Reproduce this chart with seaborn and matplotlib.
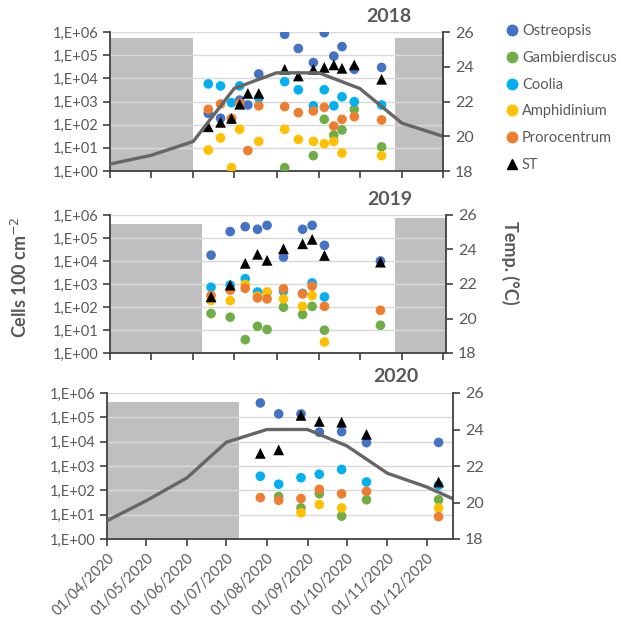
import pandas as pd
import matplotlib
matplotlib.use("Agg")
import matplotlib.pyplot as plt
import matplotlib.dates as mdates
from matplotlib.lines import Line2D
import seaborn as sns

# species and Excel-like colours
species = ["Ostreopsis", "Gambierdiscus", "Coolia", "Amphidinium", "Prorocentrum"]
palette = ["#4472C4", "#70AD47", "#00B0F0", "#FFC000", "#ED7D31"]

# 2018 samples (cells 100 cm-2)
dates_2018 = ["2018-06-12", "2018-06-21", "2018-06-29", "2018-07-05", "2018-07-11",
              "2018-07-19", "2018-08-07", "2018-08-17", "2018-08-28", "2018-09-05",
              "2018-09-12", "2018-09-18", "2018-09-27", "2018-10-17"]
ostreopsis_2018 = [310, 190, 170, 1150, 710, 15500, 790000, 195000, 48000, 930000,
                   91000, 234000, 24500, 29500]
gambierdiscus_2018 = [None, None, None, None, None, None, 1.4, None, 4.6, 170,
                      35, 59, 460, 11]
coolia_2018 = [5750, 4700, 890, 4700, None, 1400, 7200, 3200, 650, 3200,
               650, 1600, 980, 710]
amphidinium_2018 = [8, 27, 1.4, 63, None, 19, 63, 23, 19, 15,
                    19, 6, None, 4.6]
prorocentrum_2018 = [460, 780, 190, 830, 7.6, 650, 600, 330, 390, 560,
                     87, 170, 220, 160]
st_2018 = [81, 126, 186, 760, 2240, 2240, 24500, 12600, 24500, 29500,
           38000, 27000, 38000, 9100]

# 2019 samples
dates_2019 = ["2019-06-14", "2019-06-28", "2019-07-09", "2019-07-18", "2019-07-25",
              "2019-08-06", "2019-08-20", "2019-08-27", "2019-09-05", "2019-10-16"]
ostreopsis_2019 = [18000, 190000, 310000, 240000, 355000, 14800, 240000, 355000, 48000, 10000]
gambierdiscus_2019 = [52, 36, 3.8, 14.5, 10.5, 98, 47, 107, 9.8, 16]
coolia_2019 = [720, 890, 1700, 450, 420, 490, 390, 1120, 275, None]
amphidinium_2019 = [190, 190, 950, 295, 450, 225, 107, 316, 3, None]
prorocentrum_2019 = [316, 540, 650, 250, 225, 620, 370, 810, 107, 72]
st_2019 = [275, 890, 7900, 19500, 10700, 34000, 56000, 87000, 17400, 8900]

# 2020 samples
dates_2020 = ["2020-07-27", "2020-08-10", "2020-08-27", "2020-09-10", "2020-09-27",
              "2020-10-16", "2020-12-10"]
ostreopsis_2020 = [390000, 138000, 138000, 24500, 25700, 9100, 9300]
gambierdiscus_2020 = [None, 56, 19, 72, 8.7, 41, 41]
coolia_2020 = [380, 178, 330, 460, 720, 220, 162]
amphidinium_2020 = [None, None, 12, 26, 19, None, 19]
prorocentrum_2020 = [50, 39, 46, 110, 72, 91, 8.3]
st_2020 = [3300, 4600, 120000, 68000, 63000, 20000, 220]

# monthly sea temperature (°C)
temp_dates_2018 = ["2018-04-01", "2018-05-01", "2018-06-01", "2018-07-01", "2018-08-01",
                   "2018-09-01", "2018-10-01", "2018-11-01", "2018-12-01"]
temp_2018 = [18.4, 18.9, 19.7, 22.75, 23.65, 23.65, 22.75, 20.75, 20.0]
temp_dates_2020 = ["2020-04-01", "2020-05-01", "2020-06-01", "2020-07-01", "2020-08-01",
                   "2020-09-01", "2020-10-01", "2020-11-01", "2020-12-01", "2020-12-21"]
temp_2020 = [19.0, 20.1, 21.35, 23.3, 24.0, 24.0, 23.1, 21.6, 20.85, 20.2]

# no-sampling periods (start, end, top in °C)
shade_2018 = [("2018-04-01", "2018-06-01", 25.67), ("2018-10-27", "2018-12-01", 25.67)]
shade_2019 = [("2019-04-01", "2019-06-07", 25.46), ("2019-10-27", "2019-12-03", 25.84)]
shade_2020 = [("2020-04-01", "2020-07-11", 25.49)]

text_col = "#595959"
sns.set_style("white")
plt.rcParams["font.family"] = ["Lato", "DejaVu Sans"]
plt.rcParams["text.color"] = text_col
plt.rcParams["axes.labelcolor"] = text_col
plt.rcParams["xtick.color"] = "#404040"
plt.rcParams["ytick.color"] = "#404040"
plt.rcParams["xtick.labelcolor"] = text_col
plt.rcParams["ytick.labelcolor"] = text_col


def long_table(dates, series):
    rows = []
    for sp, vals in zip(species, series):
        for d, v in zip(dates, vals):
            if v is not None:
                rows.append({"date": pd.Timestamp(d), "cells": v, "species": sp})
    return pd.DataFrame(rows)


def panel(rect, xlim, dates, series, st, shades, temp_dates=None, temps=None, labels=False):
    ax = fig.add_axes(rect)
    ax2 = ax.twinx()
    ax.set_zorder(1)
    ax.patch.set_visible(False)
    ax2.set_zorder(2)

    ax.set_yscale("log")
    ax.set_ylim(1, 1e6)
    ax.set_yticks([10 ** k for k in range(7)])
    ax.set_yticklabels([f"1,E+0{k}" for k in range(7)])
    ax.minorticks_off()
    ax.yaxis.grid(True, color="#D9D9D9", lw=1)
    ax.set_axisbelow(True)

    for start, end, top in shades:
        ax.axvspan(pd.Timestamp(start), pd.Timestamp(end), ymin=0, ymax=(top - 18) / 8,
                   color="#BFBFBF", lw=0, zorder=0.2)

    df = long_table(dates, series)
    sns.scatterplot(data=df, x="date", y="cells", hue="species", hue_order=species,
                    palette=palette, s=48, edgecolor="none", legend=False, ax=ax, zorder=3)
    st_df = pd.DataFrame({"date": pd.to_datetime(dates), "cells": st})
    sns.scatterplot(data=st_df, x="date", y="cells", marker="^", color="black", s=60,
                    edgecolor="none", legend=False, ax=ax, zorder=4)

    if temps is not None:
        tdf = pd.DataFrame({"date": pd.to_datetime(temp_dates), "temp": temps})
        sns.lineplot(data=tdf, x="date", y="temp", color="#666666", lw=2.4, ax=ax2)
    ax2.set_ylim(18, 26)
    ax2.set_yticks([18, 20, 22, 24, 26])
    ax2.set_ylabel("")

    ax.set_xlim(pd.Timestamp(xlim[0]), pd.Timestamp(xlim[1]))
    ax.xaxis.set_major_locator(mdates.MonthLocator())
    ax.xaxis.set_major_formatter(mdates.DateFormatter("%d/%m/%Y"))
    ax.set_xlabel("")
    ax.set_ylabel("")
    if labels:
        plt.setp(ax.get_xticklabels(), rotation=45, ha="right", rotation_mode="anchor",
                 fontsize=10.5)
    else:
        ax.set_xticklabels([])

    for s in ["top", "right"]:
        ax.spines[s].set_visible(False)
    for s in ["top", "left", "bottom"]:
        ax2.spines[s].set_visible(False)
    for sp in [ax.spines["left"], ax.spines["bottom"], ax2.spines["right"]]:
        sp.set_color("#404040")
        sp.set_linewidth(1.3)
    ax.tick_params(axis="both", direction="out", length=5, width=1.2, labelsize=10.5,
                   left=True, bottom=True)
    ax2.tick_params(axis="y", direction="out", length=5, width=1.2, labelsize=11.5, right=True)
    return ax


fig = plt.figure(figsize=(6.21, 6.20), dpi=100)

panel([110 / 621, 1 - 171 / 620, 333 / 621, 139 / 620], ("2018-04-01", "2018-12-01"),
      dates_2018, [ostreopsis_2018, gambierdiscus_2018, coolia_2018, amphidinium_2018,
                   prorocentrum_2018], st_2018, shade_2018, temp_dates_2018, temp_2018)
panel([110 / 621, 1 - 353 / 620, 336 / 621, 138 / 620], ("2019-04-01", "2019-12-03"),
      dates_2019, [ostreopsis_2019, gambierdiscus_2019, coolia_2019, amphidinium_2019,
                   prorocentrum_2019], st_2019, shade_2019)
panel([107 / 621, 1 - 539 / 620, 346 / 621, 146 / 620], ("2020-04-01", "2020-12-21"),
      dates_2020, [ostreopsis_2020, gambierdiscus_2020, coolia_2020, amphidinium_2020,
                   prorocentrum_2020], st_2020, shade_2020, temp_dates_2020, temp_2020,
      labels=True)

for year, x, y in [("2018", 389, 16), ("2019", 390, 200), ("2020", 396, 377)]:
    fig.text(x / 621, 1 - y / 620, year, ha="center", va="center", fontsize=14,
             fontweight="bold", color=text_col)

fig.text(20 / 621, 1 - 277 / 620, r"Cells 100 cm$^{-2}$", rotation=90, ha="center",
         va="center", fontsize=13, fontweight="bold", color=text_col)
fig.text(510 / 621, 1 - 263 / 620, "Temp. (°C)", rotation=270, ha="center", va="center",
         fontsize=13, fontweight="bold", color=text_col)

handles = [Line2D([], [], marker="o", ls="none", color=c, markersize=7.5) for c in palette]
handles.append(Line2D([], [], marker="^", ls="none", color="black", markersize=7))
fig.legend(handles, species + ["ST"], loc="upper left", bbox_to_anchor=(503 / 621, 1 - 24 / 620),
           frameon=False, fontsize=10.5, handletextpad=0.1, labelspacing=0.88,
           handlelength=1.2, borderpad=0, borderaxespad=0)

fig.savefig("out.png", dpi=100)
